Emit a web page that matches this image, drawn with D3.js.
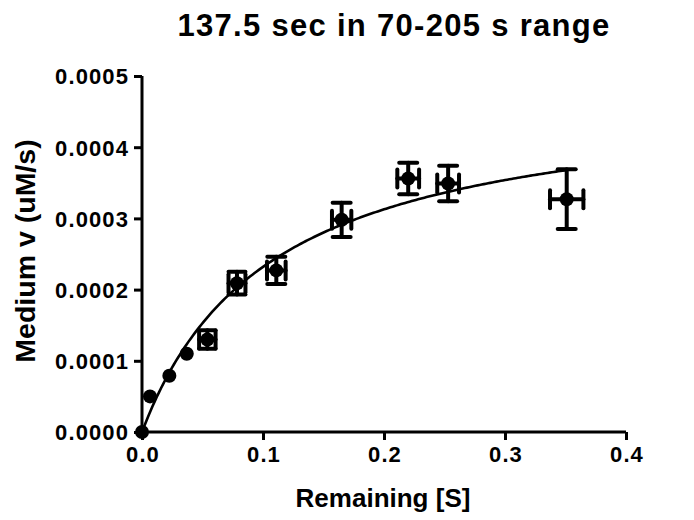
<!DOCTYPE html>
<html>
<head>
<meta charset="utf-8">
<script src="https://cdn.jsdelivr.net/npm/d3@7"></script>
<style>
  html, body { margin: 0; padding: 0; background: #fff; }
  svg { display: block; }
</style>
</head>
<body>
<svg id="chart" width="694" height="520"></svg>
<script>
// ---- data ----
const substrate   = [0, 0.0066, 0.0226, 0.037, 0.054, 0.0785, 0.111, 0.165, 0.220, 0.253, 0.351];
const velocity    = [0, 0.000050, 0.000079, 0.000110, 0.000130, 0.000209, 0.000227, 0.000298, 0.000356, 0.000349, 0.000327];
const velocityErr = [0, 0.000004, 0.000004, 0.000005, 0.000013, 0.000016, 0.000019, 0.000024, 0.000022, 0.000025, 0.000042];
const substrateErr= [0, 0.002, 0.002, 0.003, 0.0068, 0.007, 0.0077, 0.008, 0.009, 0.009, 0.0138];
// Michaelis-Menten fit parameters (estimated from the drawn curve)
const fitVmax = 0.00048;
const fitKm = 0.107;
const xTicks = [0, 0.1, 0.2, 0.3, 0.4];
const yTicks = [0, 0.0001, 0.0002, 0.0003, 0.0004, 0.0005];
const titleText = "137.5 sec in 70-205 s range";
const xLabel = "Remaining [S]";
const yLabel = "Medium v (uM/s)";

// ---- layout ----
const svg = d3.select("#chart");
const plotLeft = 142, plotRight = 626, plotTop = 76, plotBottom = 432;
const x = d3.scaleLinear().domain([0, 0.4]).range([plotLeft, plotRight]);
const y = d3.scaleLinear().domain([0, 0.0005]).range([plotBottom, plotTop]);
const font = "'Liberation Sans', Arial, Helvetica, sans-serif";

// title
svg.append("text")
  .attr("x", 394).attr("y", 36)
  .attr("text-anchor", "middle")
  .style("font-family", font).style("font-weight", "bold")
  .style("font-size", "31px").style("letter-spacing", "1.3px")
  .text(titleText);

// axes
const xAxis = d3.axisBottom(x).tickValues(xTicks).tickFormat(d3.format(".1f")).tickSize(8).tickPadding(5);
const yAxis = d3.axisLeft(y).tickValues(yTicks).tickFormat(d3.format(".4f")).tickSize(8).tickPadding(5);

const gx = svg.append("g").attr("transform", `translate(0,${plotBottom})`).call(xAxis);
const gy = svg.append("g").attr("transform", `translate(${plotLeft},0)`).call(yAxis);

[gx, gy].forEach(g => {
  g.select(".domain").attr("stroke", "#000").attr("stroke-width", 3);
  g.selectAll(".tick line").attr("stroke", "#000").attr("stroke-width", 3);
  g.selectAll(".tick text")
    .attr("fill", "#000")
    .style("font-family", font).style("font-weight", "bold")
    .style("font-size", "22px").style("letter-spacing", "1.1px");
});
gx.select(".domain").attr("d", `M${plotLeft},0H${plotRight}`);
gy.select(".domain").attr("d", `M0,${plotTop}V${plotBottom}`);
gx.selectAll(".tick text").attr("dy", "0.76em").attr("dx", "0.5px");
gy.selectAll(".tick text").attr("dy", "0.36em");

// axis titles
svg.append("text")
  .attr("x", 383).attr("y", 507)
  .attr("text-anchor", "middle")
  .style("font-family", font).style("font-weight", "bold")
  .style("font-size", "26px")
  .text(xLabel);

svg.append("text")
  .attr("transform", `translate(35,251) rotate(-90)`)
  .attr("text-anchor", "middle")
  .style("font-family", font).style("font-weight", "bold")
  .style("font-size", "28.5px")
  .text(yLabel);

// fitted curve
const sMax = d3.max(substrate);
const curveS = d3.range(0, 201).map(i => sMax * i / 200);
const line = d3.line().x(d => x(d)).y(d => y(fitVmax * d / (fitKm + d)));
svg.append("path")
  .datum(curveS)
  .attr("d", line)
  .attr("fill", "none").attr("stroke", "#000").attr("stroke-width", 2.6);

// points with error bars
const pts = substrate.map((s, i) => ({ s, v: velocity[i], ve: velocityErr[i], se: substrateErr[i] }));
const g = svg.append("g").attr("stroke", "#000").attr("stroke-width", 4).attr("stroke-linecap", "round");
pts.forEach(p => {
  const cx = x(p.s), cy = y(p.v);
  const y1 = y(p.v + p.ve), y2 = y(p.v - p.ve);
  const x1 = x(p.s - p.se), x2 = x(p.s + p.se);
  const capV = Math.min(9, Math.max(6, cx - x1));
  const capH = Math.min(9, Math.max(6, cy - y1));
  if (cy - y1 > 6) {
    g.append("line").attr("x1", cx).attr("x2", cx).attr("y1", y1).attr("y2", y2);
    g.append("line").attr("x1", cx - capV).attr("x2", cx + capV).attr("y1", y1).attr("y2", y1);
    g.append("line").attr("x1", cx - capV).attr("x2", cx + capV).attr("y1", y2).attr("y2", y2);
  }
  if (cx - x1 > 6) {
    g.append("line").attr("x1", x1).attr("x2", x2).attr("y1", cy).attr("y2", cy);
    g.append("line").attr("x1", x1).attr("x2", x1).attr("y1", cy - capH).attr("y2", cy + capH);
    g.append("line").attr("x1", x2).attr("x2", x2).attr("y1", cy - capH).attr("y2", cy + capH);
  }
});
svg.append("g").selectAll("circle").data(pts).join("circle")
  .attr("cx", d => x(d.s)).attr("cy", d => y(d.v)).attr("r", 7)
  .attr("fill", "#000");
</script>
</body>
</html>
